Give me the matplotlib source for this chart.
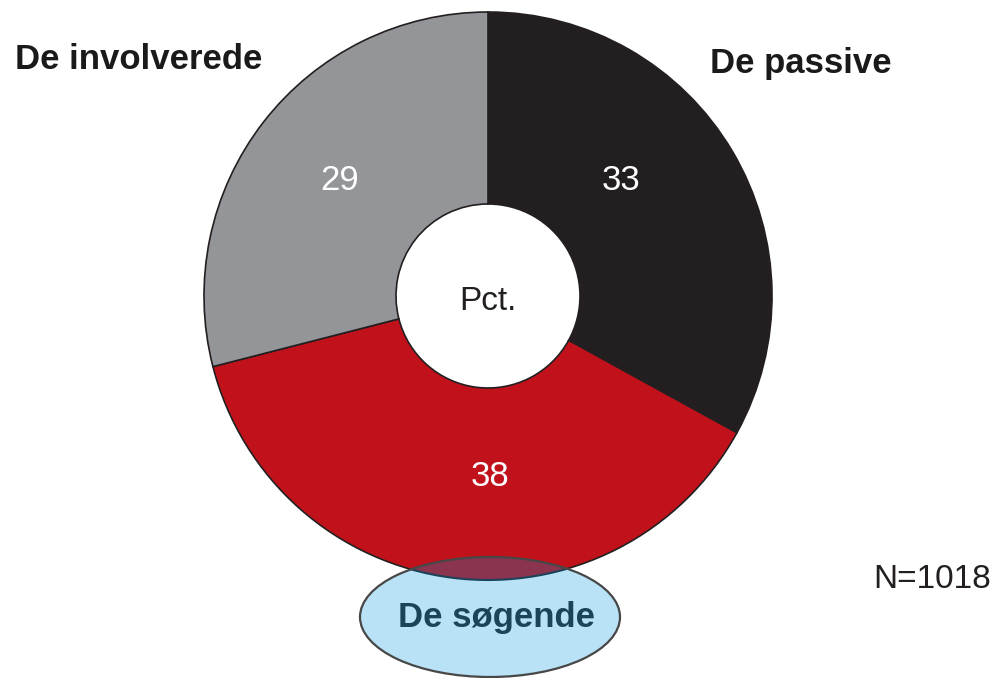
import matplotlib
matplotlib.use('Agg')
import matplotlib.pyplot as plt
from matplotlib.patches import Ellipse, Wedge

categories = ['De passive', 'De søgende', 'De involverede']
values = [33, 38, 29]
colors = ['#231F20', '#C1121C', '#939598']
center_label = 'Pct.'
n_label = 'N=1018'

W, H = 1000, 678
FONT = 'Liberation Sans'

fig = plt.figure(figsize=(10, 6.78), dpi=100)
ax = fig.add_axes([0, 0, 1, 1])

cx, cy = 488, H - 296
R = 284
hole = 92

wedges, texts, autotexts = ax.pie(
    values, colors=colors, startangle=90, counterclock=False,
    center=(cx, cy), radius=R,
    wedgeprops=dict(width=R - hole, edgecolor='#231F20', linewidth=1.2),
    autopct=lambda p: f'{p:.0f}', pctdistance=0.64,
    textprops=dict(color='white', fontsize=25, family=FONT))

# value label positions
label_pos = [(621, H - 181), (490, H - 477), (340, H - 181)]
for t, pos in zip(autotexts, label_pos):
    t.set_position(pos)
    t.set_ha('center')
    t.set_va('center')
    t.set_zorder(6)

# highlight ellipse for "De søgende"
ell_center = (490, H - 617)
ell_fill = Ellipse(ell_center, 260, 120, facecolor='#B9E2F6', edgecolor='none', zorder=2)
ax.add_patch(ell_fill)
w_red = wedges[1]
overlap = Wedge((cx, cy), R, w_red.theta1, w_red.theta2, width=R - hole,
                facecolor='#8B3450', edgecolor='#1B4459', linewidth=1.5, zorder=3)
ax.add_patch(overlap)
overlap.set_clip_path(ell_fill)
ell_edge = Ellipse(ell_center, 260, 120, facecolor='none', edgecolor='#474747',
                   linewidth=1.6, zorder=4)
ax.add_patch(ell_edge)

# category labels
ax.text(15, H - 69, categories[2], ha='left', va='baseline', fontsize=25,
        fontweight='bold', family=FONT, color='#1a1a1a', zorder=6)
ax.text(710, H - 73, categories[0], ha='left', va='baseline', fontsize=25,
        fontweight='bold', family=FONT, color='#1a1a1a', zorder=6)
ax.text(497, H - 627, categories[1], ha='center', va='baseline', fontsize=25,
        fontweight='bold', family=FONT, color='#1B4459', zorder=6)

ax.text(cx, H - 302, center_label, ha='center', va='center', fontsize=24,
        family=FONT, color='#231F20', zorder=6)
ax.text(873, H - 579, n_label, ha='left', va='center', fontsize=24,
        family=FONT, color='#231F20', zorder=6)

ax.set_xlim(0, W)
ax.set_ylim(0, H)
ax.set_aspect('equal')
ax.axis('off')
fig.savefig('out.png', dpi=100)
